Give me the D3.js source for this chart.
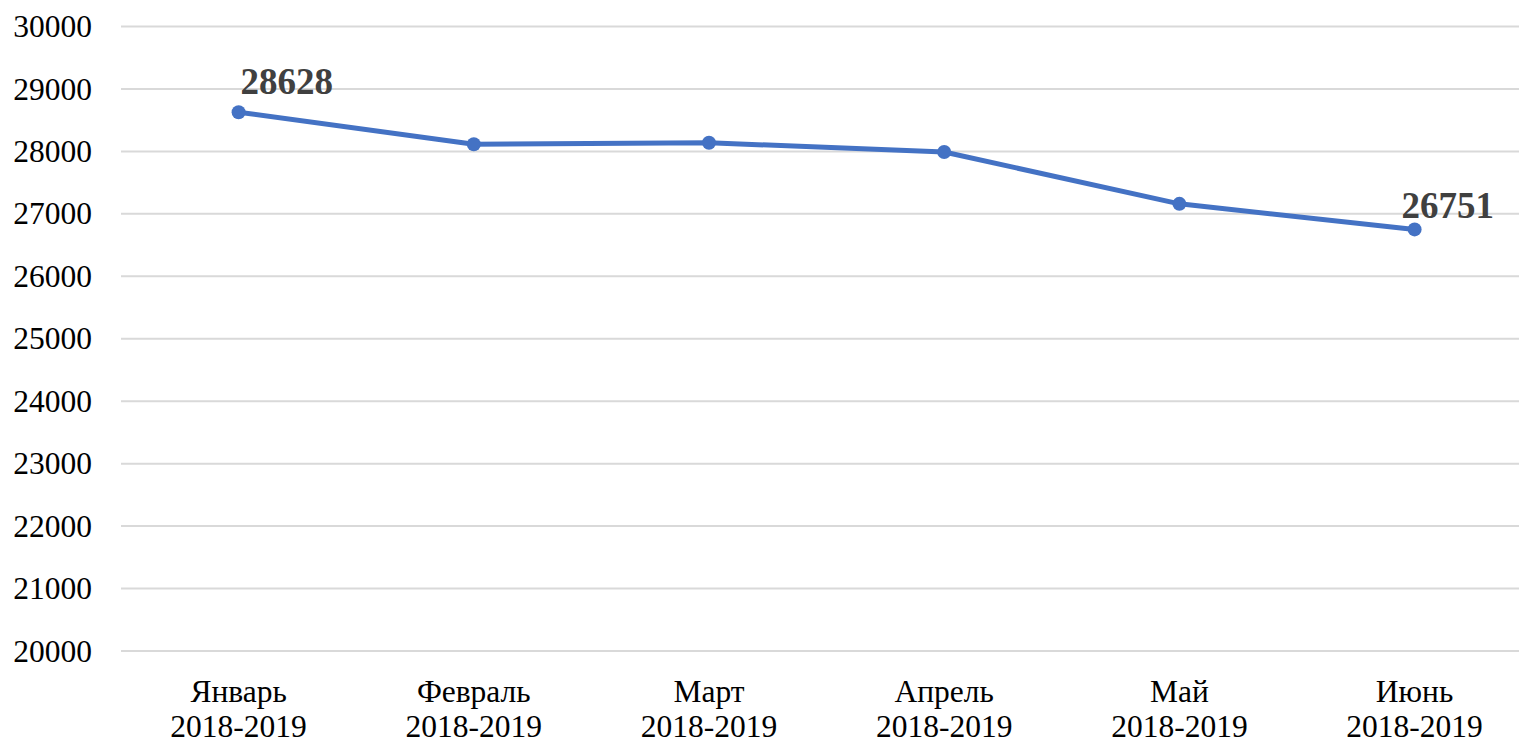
<!DOCTYPE html>
<html>
<head>
<meta charset="utf-8">
<script src="https://cdn.jsdelivr.net/npm/d3@7"></script>
<style>
  body { margin: 0; background: #fff; }
  text { font-family: "Liberation Serif", "Times New Roman", serif; }
</style>
</head>
<body>
<svg id="chart"></svg>
<script>
// Line chart: monthly values 2018-2019

var months = ["Январь", "Февраль", "Март", "Апрель", "Май", "Июнь"]
  , period = "2018-2019"
  , values = [28628, 28114, 28139, 27990, 27160, 26751]
  , yTicks = [20000, 21000, 22000, 23000, 24000, 25000, 26000, 27000, 28000, 29000, 30000]
  , labelled = [0, 5]   // points that carry a value label
  ;

var width = 1519, height = 741
  , plotLeft = 121, plotTop = 26.5, plotBottom = 651
  , step = 235.2
  ;

var svg = d3.select("#chart")
            .attr("width", width)
            .attr("height", height)
            ;

var x = d3.scalePoint()
          .domain(months)
          .range([plotLeft, plotLeft + step * months.length])
          .padding(0.5)
          ;

var y = d3.scaleLinear()
          .domain([20000, 30000])
          .range([plotBottom, plotTop])
          ;

// Gridlines
svg.selectAll("line.grid")
   .data(yTicks)
   .enter().append("line")
   .attr("class", "grid")
   .attr("x1", plotLeft)
   .attr("x2", width)
   .attr("y1", function (d) { return y(d); })
   .attr("y2", function (d) { return y(d); })
   .attr("stroke", "#d9d9d9")
   .attr("stroke-width", 2)
   ;

// Y axis labels
var yAxis = d3.axisLeft(y).tickValues(yTicks).tickSize(0).tickPadding(0).tickFormat(d3.format("d"));
svg.append("g")
   .attr("transform", "translate(92,0)")
   .call(yAxis)
   .call(function (g) { g.select(".domain").remove(); })
   .selectAll("text")
   .attr("font-family", "Liberation Serif")
   .attr("font-size", 31.5)
   .attr("fill", "#000")
   ;

// X axis labels (two lines)
var xLab = svg.selectAll("text.month")
              .data(months)
              .enter().append("text")
              .attr("class", "month")
              .attr("text-anchor", "middle")
              .attr("font-size", 31.5)
              .attr("fill", "#000")
              ;
xLab.append("tspan")
    .attr("x", function (d) { return x(d); })
    .attr("y", 702)
    .text(function (d) { return d; });
xLab.append("tspan")
    .attr("x", function (d) { return x(d); })
    .attr("y", 737)
    .text(period);

// Line
var line = d3.line()
             .x(function (d, i) { return x(months[i]); })
             .y(function (d) { return y(d); })
             ;
svg.append("path")
   .datum(values)
   .attr("d", line)
   .attr("fill", "none")
   .attr("stroke", "#4472c4")
   .attr("stroke-width", 5)
   .attr("stroke-linejoin", "round")
   ;

svg.selectAll("circle.pt")
   .data(values)
   .enter().append("circle")
   .attr("class", "pt")
   .attr("cx", function (d, i) { return x(months[i]); })
   .attr("cy", function (d) { return y(d); })
   .attr("r", 7)
   .attr("fill", "#4472c4")
   ;

// Value labels (first and last point)
var offsets = { 0: [2, -18], 5: [-13, -11] };
svg.selectAll("text.val")
   .data(labelled)
   .enter().append("text")
   .attr("class", "val")
   .attr("x", function (i) { return x(months[i]) + offsets[i][0]; })
   .attr("y", function (i) { return y(values[i]) + offsets[i][1]; })
   .attr("font-size", 37)
   .attr("font-weight", "bold")
   .attr("fill", "#404040")
   .text(function (i) { return values[i]; })
   ;
</script>
</body>
</html>
